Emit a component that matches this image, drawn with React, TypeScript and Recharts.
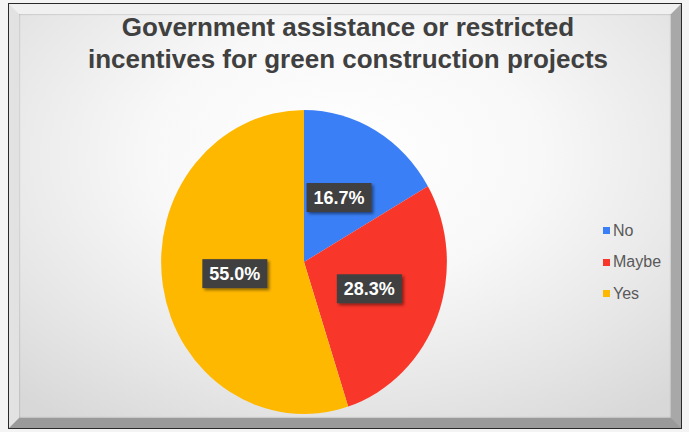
import { PieChart, Pie, Cell, Legend } from 'recharts';

// chart data
const categories = ['No', 'Maybe', 'Yes'];
const shares = [16.7, 28.3, 55.0];
const colors = ['#3a7ff6', '#f8362a', '#ffb800'];
const titleLines = ['Government assistance or restricted', 'incentives for green construction projects'];

const pieData = categories.map((name, i) => ({ name, value: shares[i] }));

const RAD = Math.PI / 180;
// pie in the picture is a bit squashed horizontally
const X_SCALE = 0.94;

const ellipsePoint = (cx: number, cy: number, r: number, angle: number) => ({
    x: cx + r * X_SCALE * Math.cos(-angle * RAD),
    y: cy + r * Math.sin(-angle * RAD),
});

const EllipseSector = (props: any) => {
    const { cx, cy, outerRadius, startAngle, endAngle, fill } = props;
    const p1 = ellipsePoint(cx, cy, outerRadius, startAngle);
    const p2 = ellipsePoint(cx, cy, outerRadius, endAngle);
    const large = Math.abs(endAngle - startAngle) > 180 ? 1 : 0;
    const sweep = endAngle < startAngle ? 1 : 0;
    const d = `M${cx},${cy} L${p1.x},${p1.y} A${outerRadius * X_SCALE},${outerRadius} 0 ${large} ${sweep} ${p2.x},${p2.y} Z`;
    return <path d={d} fill={fill} stroke="none" />;
};

const renderLabel = (props: any) => {
    const { cx, cy, midAngle, outerRadius, value } = props;
    const p = ellipsePoint(cx, cy, outerRadius * 0.49, midAngle);
    const w = 65;
    const h = 29;
    return (
        <g>
            <rect
                x={p.x - w / 2}
                y={p.y - h / 2}
                width={w}
                height={h}
                fill="#404040"
                filter="url(#lblShadow)"
            />
            <text
                x={p.x}
                y={p.y}
                textAnchor="middle"
                dominantBaseline="central"
                fill="#ffffff"
                fontSize={18}
                fontWeight="bold"
                fontFamily="'Liberation Sans', Arial, sans-serif"
            >
                {`${Number(value).toFixed(1)}%`}
            </text>
        </g>
    );
};

const renderLegend = () => (
    <div style={{ fontFamily: "'Liberation Sans', Arial, sans-serif", fontSize: 16, color: '#595959' }}>
        {categories.map((name, i) => (
            <div key={name} style={{ display: 'flex', alignItems: 'center', height: 31.5 }}>
                <span style={{ width: 7, height: 7, background: colors[i], marginRight: 3, display: 'inline-block' }} />
                <span>{name}</span>
            </div>
        ))}
    </div>
);

export default function App() {
    return (
        <div style={{ position: 'absolute', left: 0, top: 0, width: 689, height: 432, background: '#f4f4f4', overflow: 'hidden' }}>
            {/* outer frame with bevel */}
            <div
                style={{
                    position: 'absolute',
                    left: 8,
                    top: 3,
                    width: 672,
                    height: 424,
                    border: '1px solid #2a2a2a',
                    background: '#b9b9b9',
                }}
            >
                <div
                    style={{
                        position: 'absolute',
                        left: 0,
                        top: 0,
                        right: 0,
                        bottom: 0,
                        borderStyle: 'solid',
                        borderWidth: 10,
                        borderTopColor: '#f0f0f0',
                        borderLeftColor: '#e2e2e2',
                        borderRightColor: '#a8a8a8',
                        borderBottomColor: '#9a9a9a',
                        background: 'radial-gradient(ellipse 75% 80% at 50% 35%, #ffffff 0%, #f8f8f8 40%, #e6e6e6 75%, #d8d8d8 100%)',
                        boxShadow: 'inset 0 0 2px rgba(0,0,0,0.35)',
                    }}
                />
            </div>

            {/* title */}
            <div
                style={{
                    position: 'absolute',
                    left: 0,
                    width: 696,
                    top: 11,
                    textAlign: 'center',
                    fontFamily: "'Liberation Sans', Arial, sans-serif",
                    fontWeight: 'bold',
                    fontSize: 26,
                    lineHeight: '32px',
                    color: '#404040',
                }}
            >
                {titleLines.map((t) => (
                    <div key={t}>{t}</div>
                ))}
            </div>

            <div style={{ position: 'absolute', left: 0, top: 0 }}>
                <PieChart width={689} height={432} margin={{ top: 0, right: 0, bottom: 0, left: 0 }}>
                    <defs>
                        <filter id="lblShadow" x="-20%" y="-20%" width="150%" height="160%">
                            <feDropShadow dx="2" dy="2" stdDeviation="1.5" floodColor="#000" floodOpacity="0.45" />
                        </filter>
                    </defs>
                    <Pie
                        data={pieData}
                        dataKey="value"
                        nameKey="name"
                        cx={304}
                        cy={262}
                        outerRadius={152}
                        startAngle={90}
                        endAngle={-270}
                        stroke="none"
                        shape={EllipseSector}
                        label={renderLabel}
                        labelLine={false}
                        isAnimationActive={false}
                    >
                        {pieData.map((d, i) => (
                            <Cell key={d.name} fill={colors[i]} />
                        ))}
                    </Pie>
                    <Legend
                        layout="vertical"
                        align="right"
                        verticalAlign="middle"
                        content={renderLegend}
                        wrapperStyle={{ position: 'absolute', left: 603, top: 215, width: 80 }}
                    />
                </PieChart>
            </div>
        </div>
    );
}
